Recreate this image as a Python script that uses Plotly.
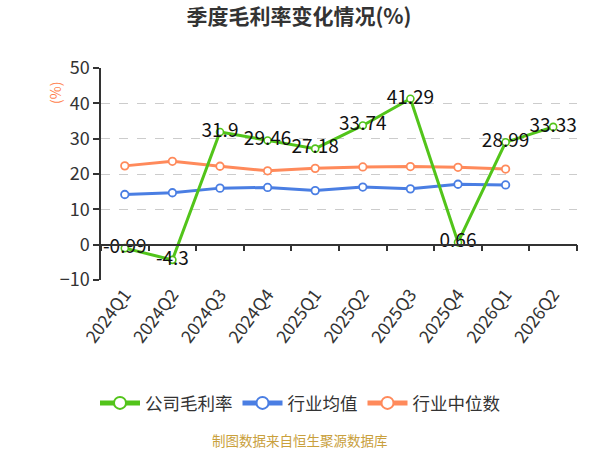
import plotly.graph_objects as go

categories = ["2024Q1", "2024Q2", "2024Q3", "2024Q4", "2025Q1", "2025Q2",
              "2025Q3", "2025Q4", "2026Q1", "2026Q2"]
company_margin = [-0.99, -4.3, 31.9, 29.46, 27.18, 33.74, 41.29, 0.66, 28.99, 33.33]
industry_mean = [14.2, 14.7, 16.0, 16.2, 15.3, 16.3, 15.8, 17.1, 16.9, None]
industry_median = [22.3, 23.6, 22.2, 20.9, 21.6, 22.0, 22.1, 21.9, 21.4, None]
y_ticks = [-10, 0, 10, 20, 30, 40, 50]

FONT = "Noto Sans CJK SC, Noto Sans, sans-serif"
GREEN = "#52c41a"
BLUE = "#4a7ee3"
ORANGE = "#ff8a5b"

fig = go.Figure()

fig.add_trace(go.Scatter(
    x=categories, y=industry_mean, name="行业均值", mode="lines+markers",
    line=dict(color=BLUE, width=3),
    marker=dict(size=7.5, color="white", line=dict(color=BLUE, width=1.8)),
    legendrank=2, connectgaps=False,
))
fig.add_trace(go.Scatter(
    x=categories, y=industry_median, name="行业中位数", mode="lines+markers",
    line=dict(color=ORANGE, width=3),
    marker=dict(size=7.5, color="white", line=dict(color=ORANGE, width=1.8)),
    legendrank=3, connectgaps=False,
))
fig.add_trace(go.Scatter(
    x=categories, y=company_margin, name="公司毛利率", mode="lines+markers+text",
    line=dict(color=GREEN, width=3),
    marker=dict(size=7, color="white", line=dict(color=GREEN, width=1.6)),
    text=[f"{v:g}" for v in company_margin], textposition="middle center",
    textfont=dict(size=19, color="#111", family=FONT),
    legendrank=1,
))
# helper trace for the zero-line category axis
fig.add_trace(go.Scatter(
    x=categories, y=[None] * len(categories), xaxis="x2", showlegend=False,
    hoverinfo="skip", mode="lines",
))

PLOT_L, PLOT_W = 101, 476
center_x = (300 - PLOT_L) / PLOT_W

fig.update_layout(
    width=600, height=450,
    margin=dict(l=101, r=23, t=68, b=170),
    paper_bgcolor="white", plot_bgcolor="white",
    font=dict(family=FONT, color="#333"),
    title=dict(text="<b>季度毛利率变化情况(%)</b>", x=299 / 600, xanchor="center",
               y=1 - 17 / 450, yanchor="middle",
               font=dict(size=21, color="#333", family=FONT)),
    xaxis=dict(
        type="category", categoryorder="array", categoryarray=categories,
        range=[-0.5, len(categories) - 0.5],
        showline=False, showgrid=False, zeroline=False, ticks="",
        tickangle=-53, tickfont=dict(size=17.5, color="#333", family=FONT),
    ),
    xaxis2=dict(
        type="category", categoryorder="array", categoryarray=categories,
        matches="x", overlaying="x", anchor="free", position=1 / 6,
        showline=True, linecolor="#333", linewidth=1.5,
        ticks="outside", tickson="boundaries", ticklen=6, tickcolor="#333",
        tickwidth=1.5,
        showticklabels=False, showgrid=False, zeroline=False,
    ),
    yaxis=dict(
        range=[-10, 50], tickvals=y_ticks, showline=True, linecolor="#333",
        linewidth=1.5, ticks="outside", ticklen=6, tickcolor="#333",
        tickwidth=1.5,
        showgrid=True, gridcolor="#cccccc", griddash="dash", gridwidth=1,
        zeroline=False, tickfont=dict(size=18, color="#333", family=FONT),
    ),
    legend=dict(orientation="h", x=center_x, xanchor="center",
                y=-(403 - 280) / 212, yanchor="middle",
                font=dict(size=17.5, color="#333", family=FONT),
                itemwidth=40, itemsizing="constant", traceorder="normal"),
    annotations=[
        dict(text="制图数据来自恒生聚源数据库", xref="paper", yref="paper",
             x=center_x, y=-(440 - 280) / 212, xanchor="center",
             yanchor="middle", showarrow=False,
             font=dict(size=13.5, color="#c9a03c", family=FONT)),
        dict(text="(%)", xref="paper", yref="paper", x=-(101 - 55) / 476,
             y=(280 - 93) / 212, xanchor="center", yanchor="middle",
             textangle=-90, showarrow=False,
             font=dict(size=14, color="#ff7f4d", family=FONT)),
    ],
)

fig.write_html("out.html", config={"displayModeBar": False},
               post_script="document.body.style.margin='0';")
